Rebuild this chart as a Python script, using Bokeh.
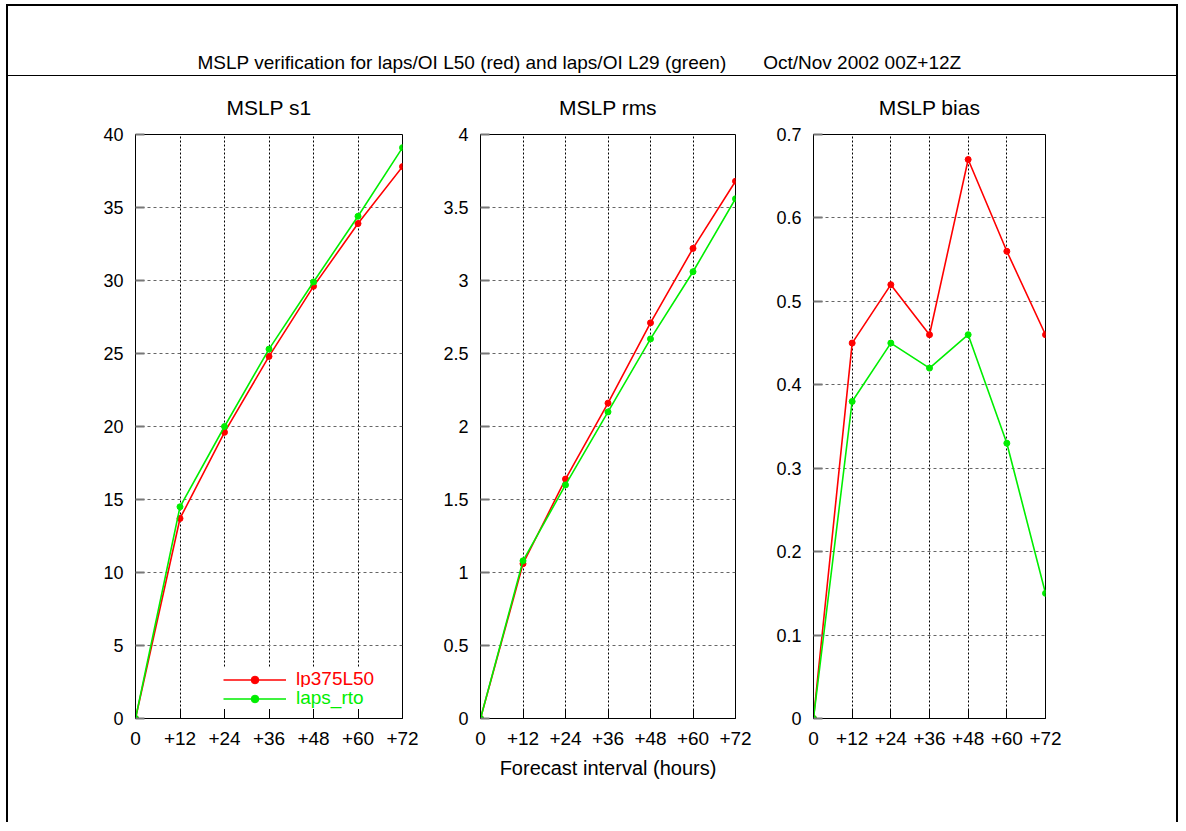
from bokeh.plotting import figure
from bokeh.models import (FixedTicker, Range1d, Legend, LegendItem, Label,
                          ColumnDataSource)
from bokeh.layouts import row, column
from bokeh.embed import file_html
from bokeh.resources import INLINE

# ---------------- data ----------------
hours = [0, 12, 24, 36, 48, 60, 72]
hour_labels = ["0", "+12", "+24", "+36", "+48", "+60", "+72"]

s1_red = [0, 13.7, 19.6, 24.8, 29.6, 33.9, 37.8]
s1_green = [0, 14.5, 20.0, 25.3, 29.9, 34.4, 39.1]
rms_red = [0, 1.06, 1.64, 2.16, 2.71, 3.22, 3.68]
rms_green = [0, 1.08, 1.60, 2.10, 2.60, 3.06, 3.56]
bias_red = [0, 0.45, 0.52, 0.46, 0.67, 0.56, 0.46]
bias_green = [0, 0.38, 0.45, 0.42, 0.46, 0.33, 0.15]

series_names = ["lp375L50", "laps_rto"]
panel_titles = ["MSLP s1", "MSLP rms", "MSLP bias"]
main_title = ("MSLP verification for laps/OI L50 (red) and laps/OI L29 (green)"
              + "\u00a0" * 7 + "Oct/Nov 2002 00Z+12Z")
x_label = "Forecast interval (hours)"

s1_ticks = [0, 5, 10, 15, 20, 25, 30, 35, 40]
s1_tick_labels = ["0", "5", "10", "15", "20", "25", "30", "35", "40"]
rms_ticks = [0, 0.5, 1, 1.5, 2, 2.5, 3, 3.5, 4]
rms_tick_labels = ["0", "0.5", "1", "1.5", "2", "2.5", "3", "3.5", "4"]
bias_ticks = [0, 0.1, 0.2, 0.3, 0.4, 0.5, 0.6, 0.7]
bias_tick_labels = ["0", "0.1", "0.2", "0.3", "0.4", "0.5", "0.6", "0.7"]

# ---------------- style ----------------
FONT = "Liberation Sans"
RED = "#ff0000"
GREEN = "#00ee00"
FIG_H = 746


def make_panel(title, red, green, yticks, ylabels, width, left, right,
               xlabel=None, legend=False):
    p = figure(width=width, height=FIG_H, output_backend="svg", toolbar_location=None,
               x_range=Range1d(hours[0], hours[-1]),
               y_range=Range1d(yticks[0], yticks[-1]),
               min_border_left=left, min_border_right=right,
               min_border_top=58, min_border_bottom=104)
    p.title.text = title
    p.title.align = "center"
    p.title.text_font = FONT
    p.title.text_font_size = "21px"
    p.title.text_font_style = "normal"
    p.title.text_color = "black"
    p.title.standoff = 31

    p.outline_line_color = "black"
    p.outline_line_alpha = 1
    p.outline_line_width = 1
    p.background_fill_color = "white"
    p.border_fill_color = "white"

    xa = p.xaxis[0]
    xa.ticker = FixedTicker(ticks=hours)
    xa.major_label_overrides = dict(zip(hours, hour_labels))
    ya = p.yaxis[0]
    ya.ticker = FixedTicker(ticks=yticks)
    ya.major_label_overrides = dict(zip(yticks, ylabels))
    for ax in (xa, ya):
        ax.axis_line_color = "black"
        ax.major_tick_in = 9
        ax.major_tick_out = 0
        ax.minor_tick_line_color = None
        ax.major_label_text_font = FONT
        ax.major_label_text_color = "black"
    xa.major_label_text_font_size = "19px"
    ya.major_label_text_font_size = "18px"
    xa.major_label_standoff = 13
    ya.major_label_standoff = 12
    xa.major_tick_line_color = "black"
    ya.major_tick_line_color = "#777777"
    ya.major_tick_line_width = 2

    if xlabel:
        xa.axis_label = xlabel
        xa.axis_label_text_font = FONT
        xa.axis_label_text_font_size = "20px"
        xa.axis_label_text_font_style = "normal"
        xa.axis_label_text_color = "black"
        xa.axis_label_standoff = 9

    p.xgrid.grid_line_color = "black"
    p.xgrid.grid_line_dash = "2 2"
    p.xgrid.grid_line_width = 1
    p.ygrid.grid_line_color = "#666666"
    p.ygrid.grid_line_dash = "3 3"
    p.ygrid.grid_line_width = 1.2

    src_r = ColumnDataSource(dict(x=hours, y=red))
    src_g = ColumnDataSource(dict(x=hours, y=green))
    lr = p.line("x", "y", source=src_r, line_color=RED, line_width=1.6)
    sr = p.scatter("x", "y", source=src_r, size=6, color=RED)
    lg = p.line("x", "y", source=src_g, line_color=GREEN, line_width=1.6)
    sg = p.scatter("x", "y", source=src_g, size=6, color=GREEN)

    if legend:
        for name, rends, col, loc in ((series_names[0], [lr, sr], RED, (88, 28)),
                                      (series_names[1], [lg, sg], GREEN, (88, 9))):
            leg = Legend(items=[LegendItem(label=name, renderers=rends)],
                         location=loc, glyph_width=63, glyph_height=19,
                         label_height=19, label_standoff=10, padding=0, margin=0,
                         spacing=0, border_line_color=None,
                         background_fill_color="white", background_fill_alpha=1,
                         label_text_color=col, label_text_font=FONT,
                         label_text_font_size="19px")
            p.add_layout(leg)
    return p


f1 = make_panel(panel_titles[0], s1_red, s1_green, s1_ticks, s1_tick_labels,
                431, 127, 37, legend=True)
f2 = make_panel(panel_titles[1], rms_red, rms_green, rms_ticks, rms_tick_labels,
                333, 41, 37, xlabel=x_label)
f3 = make_panel(panel_titles[2], bias_red, bias_green, bias_ticks, bias_tick_labels,
                404, 41, 131)

hdr = figure(width=1168, height=70, output_backend="svg", toolbar_location=None,
             x_range=Range1d(0, 1), y_range=Range1d(0, 1),
             x_axis_location=None, y_axis_location=None, min_border=0,
             styles={"border-bottom": "1px solid black"})
hdr.grid.visible = False
hdr.outline_line_color = None
hdr.add_layout(Label(x=571, y=14, x_units="screen", y_units="screen", text=main_title,
                     text_align="center", text_baseline="middle", text_font=FONT,
                     text_font_size="19px", text_color="black"))

layout = column(hdr, row(f1, f2, f3),
                styles={"border-left": "2px solid black",
                        "border-right": "2px solid black",
                        "border-top": "2px solid black",
                        "margin-left": "6px",
                        "margin-top": "4px"})

open("out.html", "w").write(file_html(layout, INLINE))
